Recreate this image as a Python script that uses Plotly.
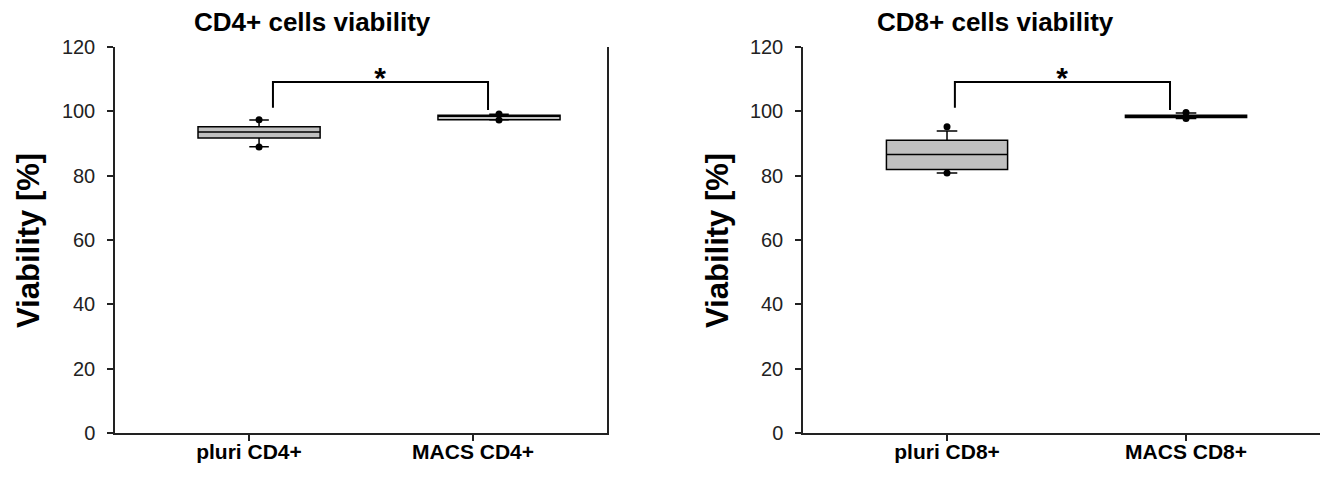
import plotly.graph_objects as go

# ---------------- data ----------------
categories_cd4 = ["pluri CD4+", "MACS CD4+"]
categories_cd8 = ["pluri CD8+", "MACS CD8+"]
y_ticks = [0, 20, 40, 60, 80, 100, 120]

cd4_q1 = [91.7, 97.4]
cd4_median = [93.6, 98.8]
cd4_q3 = [95.2, 98.8]
cd4_lowerfence = [89.0, 97.3]
cd4_upperfence = [97.3, 99.1]
cd4_low_point = [88.9, 97.3]
cd4_high_point = [97.4, 99.2]

cd8_q1 = [81.9, 98.1]
cd8_median = [86.6, 98.4]
cd8_q3 = [91.0, 98.8]
cd8_lowerfence = [80.8, 97.8]
cd8_upperfence = [93.9, 99.5]
cd8_low_point = [80.8, 97.8]
cd8_high_point = [95.2, 99.6]

sig_top = 109.1
sig_leg_bottom = [101.1, 100.4]
sig_label = "*"

# ---------------- layout constants ----------------
W, H = 1328, 478
OFF = 8  # page body margin of the browser
FONT = "Liberation Sans, Arial, sans-serif"
BOX_FILL = "#c0c0c0"


def px(x):
    return (x - OFF) / W


def py(y):
    return 1 - (y - OFF) / H


pos_cd4 = [1.045, 2.116]
pos_cd8 = [1.0, 2.0]
brk_cd4 = [1.107, 2.067]
brk_cd8 = [1.033, 1.933]
star_cd4 = 1.585
star_cd8 = 1.481

fig = go.Figure()


def add_panel(xa, ya, pos, q1, med, q3, lf, uf, lowp, highp, brk, starx, width, ww):
    for i in range(2):
        fig.add_trace(go.Box(
            x=[pos[i]], q1=[q1[i]], median=[med[i]], q3=[q3[i]],
            lowerfence=[lf[i]], upperfence=[uf[i]],
            width=width, whiskerwidth=ww,
            fillcolor=BOX_FILL, line=dict(color="black", width=1.5),
            boxpoints=False, showlegend=False, hoverinfo="skip",
            xaxis=xa, yaxis=ya,
        ))
        fig.add_trace(go.Scatter(
            x=[pos[i], pos[i]], y=[lowp[i], highp[i]], mode="markers",
            marker=dict(color="black", size=7, symbol="circle"),
            showlegend=False, hoverinfo="skip", xaxis=xa, yaxis=ya,
        ))
    # significance bracket
    fig.add_trace(go.Scatter(
        x=[brk[0], brk[0], brk[1], brk[1]],
        y=[sig_leg_bottom[0], sig_top, sig_top, sig_leg_bottom[1]],
        mode="lines", line=dict(color="black", width=2),
        showlegend=False, hoverinfo="skip", xaxis=xa, yaxis=ya,
    ))
    fig.add_trace(go.Scatter(
        x=[starx], y=[sig_top + 0.4], mode="text", text=[sig_label],
        textposition="middle center",
        textfont=dict(family=FONT, size=30, color="black", weight="bold"),
        showlegend=False, hoverinfo="skip", xaxis=xa, yaxis=ya,
    ))


add_panel("x", "y", pos_cd4, cd4_q1, cd4_median, cd4_q3, cd4_lowerfence,
          cd4_upperfence, cd4_low_point, cd4_high_point, brk_cd4, star_cd4, 0.545, 0.16)
add_panel("x2", "y2", pos_cd8, cd8_q1, cd8_median, cd8_q3, cd8_lowerfence,
          cd8_upperfence, cd8_low_point, cd8_high_point, brk_cd8, star_cd8, 0.507, 0.17)

ydom = [py(433), py(47)]

xcommon = dict(showgrid=False, zeroline=False, showline=True, linecolor="#222",
               linewidth=1.5, ticks="outside", ticklen=6, tickwidth=1.5,
               tickcolor="#222", tickmode="array", tickvals=[1, 2],
               tickfont=dict(family=FONT, size=21, color="black", weight="bold"),
               ticklabelstandoff=-7, fixedrange=True, automargin=False)
ycommon = dict(showgrid=False, zeroline=False, showline=True, linecolor="#222",
               linewidth=1.5, ticks="outside", ticklen=6, tickwidth=1.5,
               tickcolor="#222", tickmode="array", tickvals=y_ticks,
               ticktext=[str(v) for v in y_ticks], range=[0, 120],
               tickfont=dict(family=FONT, size=20, color="#222"),
               ticklabelstandoff=8, fixedrange=True, automargin=False)

fig.update_layout(
    width=W, height=H,
    margin=dict(l=0, r=0, t=0, b=0, pad=0, autoexpand=False),
    paper_bgcolor="white", plot_bgcolor="white",
    xaxis=dict(xcommon, domain=[px(115), px(607)], range=[0.402, 2.598],
               ticktext=categories_cd4, anchor="y"),
    yaxis=dict(ycommon, domain=ydom, anchor="x", mirror=True),
    xaxis2=dict(xcommon, domain=[px(803), 1.0], range=[0.3975, 2.594 + 8 / 239],
                ticktext=categories_cd8, anchor="y2"),
    yaxis2=dict(ycommon, domain=ydom, anchor="x2"),
    annotations=[
        dict(text="<b>CD4+ cells viability</b>", x=px(312), y=py(22),
             xref="paper", yref="paper", showarrow=False, xanchor="center",
             yanchor="middle", font=dict(family=FONT, size=26, color="black")),
        dict(text="<b>CD8+ cells viability</b>", x=px(995), y=py(22),
             xref="paper", yref="paper", showarrow=False, xanchor="center",
             yanchor="middle", font=dict(family=FONT, size=26, color="black")),
        dict(text="<b>Viability [%]</b>", x=px(28), y=py(241),
             xref="paper", yref="paper", showarrow=False, textangle=-90,
             xanchor="center", yanchor="middle",
             font=dict(family=FONT, size=31, color="black")),
        dict(text="<b>Viability [%]</b>", x=px(717), y=py(241),
             xref="paper", yref="paper", showarrow=False, textangle=-90,
             xanchor="center", yanchor="middle",
             font=dict(family=FONT, size=31, color="black")),
    ],
)

fig.write_html("out.html")
